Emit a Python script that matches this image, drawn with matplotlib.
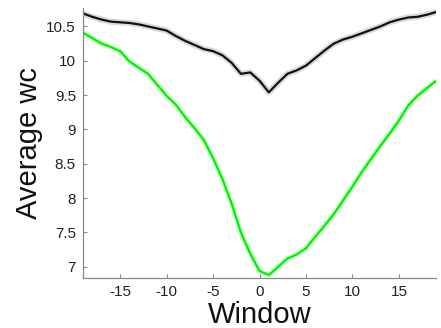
import matplotlib
matplotlib.use("Agg")
import matplotlib.pyplot as plt
import numpy as np

plt.rcParams['font.family'] = ['Liberation Sans', 'DejaVu Sans']

window = list(range(-19, 20))

avg_wc_black = [10.69, 10.64, 10.60, 10.57, 10.56, 10.55, 10.53, 10.50, 10.47, 10.44,
                10.36, 10.29, 10.23, 10.17, 10.14, 10.08, 9.97, 9.81, 9.83, 9.71,
                9.54, 9.68, 9.81, 9.86, 9.93, 10.04, 10.15, 10.25, 10.31, 10.35,
                10.40, 10.45, 10.50, 10.56, 10.60, 10.63, 10.64, 10.67, 10.71]

avg_wc_green = [10.41, 10.33, 10.25, 10.20, 10.14, 9.99, 9.90, 9.81, 9.65, 9.49,
                9.36, 9.18, 9.02, 8.85, 8.58, 8.28, 7.92, 7.50, 7.19, 6.94,
                6.88, 7.00, 7.12, 7.18, 7.27, 7.44, 7.60, 7.77, 7.97, 8.17,
                8.38, 8.57, 8.76, 8.94, 9.13, 9.35, 9.49, 9.60, 9.71]

x_ticks = [-15, -10, -5, 0, 5, 10, 15]
y_ticks = [7, 7.5, 8, 8.5, 9, 9.5, 10, 10.5]
y_tick_labels = ['7', '7.5', '8', '8.5', '9', '9.5', '10', '10.5']

fig = plt.figure(figsize=(4.41, 3.28), dpi=100)
ax = fig.add_axes([0.188, 0.153, 0.801, 0.823])

# soft halo under each mean curve
ax.plot(window, avg_wc_black, color='#999999', lw=4.5, alpha=0.35, solid_capstyle='butt')
ax.plot(window, avg_wc_green, color='#7CFF7C', lw=4.0, alpha=0.35, solid_capstyle='butt')
ax.plot(window, avg_wc_black, color='#111111', lw=1.6)
ax.plot(window, avg_wc_green, color='#00F000', lw=1.6)

ax.set_xlim(-19, 19)
ax.set_ylim(6.84, 10.77)
ax.set_xticks(x_ticks)
ax.set_xticklabels([str(t) for t in x_ticks])
ax.set_yticks(y_ticks)
ax.set_yticklabels(y_tick_labels)

for side in ('top', 'right'):
    ax.spines[side].set_visible(False)
for side in ('left', 'bottom'):
    ax.spines[side].set_color('#888888')
    ax.spines[side].set_linewidth(0.9)

ax.tick_params(direction='in', length=3, width=0.8, color='#888888',
               labelsize=11, labelcolor='#222222', pad=5)

ax.set_xlabel('Window', fontsize=21, color='#111111', labelpad=1.5)
ax.set_ylabel('Average wc', fontsize=21, color='#111111')
ax.yaxis.set_label_coords(-0.153, 0.5)
ax.yaxis.label.set_va('center')

fig.savefig('out.png', dpi=100)
